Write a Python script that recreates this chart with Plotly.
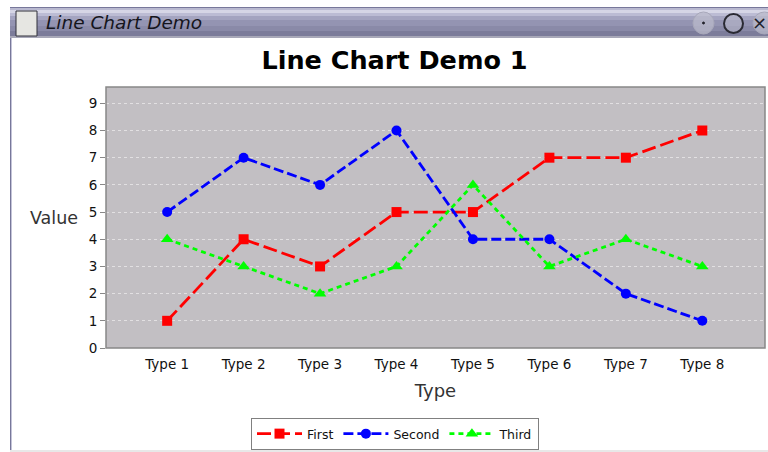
import plotly.graph_objects as go

categories = ["Type 1", "Type 2", "Type 3", "Type 4", "Type 5", "Type 6", "Type 7", "Type 8"]
first = [1, 4, 3, 5, 5, 7, 7, 8]
second = [5, 7, 6, 8, 4, 4, 2, 1]
third = [4, 3, 2, 3, 6, 3, 4, 3]
y_ticks = [0, 1, 2, 3, 4, 5, 6, 7, 8, 9]

W, H = 768, 452
FONT = "DejaVu Sans"

fig = go.Figure()
fig.add_trace(go.Scatter(x=categories, y=first, name="First", mode="lines+markers",
                         line=dict(color="#ff0000", width=2.8, dash="14px,5px"),
                         marker=dict(symbol="square", size=10, color="#ff0000")))
fig.add_trace(go.Scatter(x=categories, y=second, name="Second", mode="lines+markers",
                         line=dict(color="#0000ff", width=2.8, dash="10px,4px"),
                         marker=dict(symbol="circle", size=10, color="#0000ff")))
fig.add_trace(go.Scatter(x=categories, y=third, name="Third", mode="lines+markers",
                         line=dict(color="#00ff00", width=2.8, dash="5px,4px"),
                         marker=dict(symbol="triangle-up", size=11, color="#00ff00")))


def px_rect(x0, y0, x1, y1, fill, line=None, layer="above"):
    return dict(type="rect", xref="paper", yref="paper", layer=layer,
                x0=(x0 - 106) / 659, x1=(x1 - 106) / 659,
                y0=(348 - y0) / 261, y1=(348 - y1) / 261,
                fillcolor=fill, line=dict(color=line or fill, width=1 if line else 0))


def px_circle(x0, y0, x1, y1, fill, line, width=1):
    s = px_rect(x0, y0, x1, y1, fill)
    s["type"] = "circle"
    s["line"] = dict(color=line, width=width)
    return s


bands = [(7, 8, "#77779a"), (8, 10, "#b9b9d0"), (10, 13, "#d6d6e6"), (13, 16, "#bcbcd4"),
         (16, 20, "#a4a4c0"), (20, 26, "#9494b2"), (26, 31, "#8a8aa8"), (31, 36, "#7c7c9a"),
         (36, 38, "#a8a8b8")]
shapes = [px_rect(10, y0, 768, y1, c) for y0, y1, c in bands]
shapes += [px_rect(10, 38, 12, 450, "#c4c4d8"), px_rect(10, 38, 11, 450, "#77779a"),
           px_rect(10, 450, 768, 452, "#e8e8e8"),
           px_rect(16, 11, 37, 36, "#e6e6e2", "#30303a"),
           px_circle(693, 12, 714, 34, "rgba(190,190,205,0.7)", "#a8a8ba"),
           px_circle(702.5, 22, 704.5, 24, "#202028", "#202028"),
           px_circle(724, 14, 743, 33, "rgba(190,190,205,0.5)", "#2a2a33", 2),
           px_circle(753, 12, 776, 34, "rgba(190,190,205,0.7)", "#a8a8ba")]

annotations = [
    dict(text="<i>Line Chart Demo</i>", xref="paper", yref="paper", x=(44 - 106) / 659, y=(348 - 23) / 261,
         xanchor="left", yanchor="middle", showarrow=False,
         font=dict(family=FONT, size=18.5, color="#15151c")),
    dict(text="×", xref="paper", yref="paper", x=(759 - 106) / 659, y=(348 - 23) / 261,
         xanchor="center", yanchor="middle", showarrow=False,
         font=dict(family=FONT, size=18, color="#20202a")),
    dict(text="Value", xref="paper", yref="paper", x=(54 - 106) / 659, y=(348 - 218) / 261,
         xanchor="center", yanchor="middle", showarrow=False,
         font=dict(family=FONT, size=17.5, color="#333333")),
]

fig.update_layout(
    width=W, height=H,
    margin=dict(l=106, r=3, t=87, b=104, autoexpand=False),
    paper_bgcolor="#ffffff", plot_bgcolor="#c2bfc3",
    title=dict(text="<b>Line Chart Demo 1</b>", x=394.5 / W, xanchor="center", y=1 - 60 / H, yanchor="middle",
               font=dict(family=FONT, size=25.5, color="#000000")),
    font=dict(family=FONT, size=12, color="#111111"),
    xaxis=dict(title=dict(text="Type", standoff=13, font=dict(family=FONT, size=18, color="#333333")),
               type="category", categoryorder="array", categoryarray=categories, range=[-0.8, 7.82],
               showgrid=False, zeroline=False, ticks="outside", ticklen=4, tickcolor="rgba(0,0,0,0)", showline=False,
               tickfont=dict(family=FONT, size=13.5, color="#111111")),
    yaxis=dict(title=dict(text=""), range=[0, 9.6], tickvals=y_ticks, ticks="outside", ticklen=5,
               tickcolor="#888888", showgrid=True, gridcolor="#e2e0e2", griddash="3px,3px", gridwidth=1,
               zeroline=False, showline=False, tickfont=dict(family=FONT, size=13.5, color="#111111")),
    showlegend=True,
    legend=dict(orientation="h", x=(251 - 106) / 659, y=(348 - 418) / 261, xanchor="left", yanchor="top",
                bgcolor="#ffffff", bordercolor="#808080", borderwidth=1,
                font=dict(family=FONT, size=12.5, color="#111111"), itemwidth=45, traceorder="normal"),
    shapes=shapes + [dict(type="rect", xref="paper", yref="paper", x0=0, x1=1, y0=0, y1=1,
                          line=dict(color="#888888", width=1.5), layer="above")],
    annotations=annotations,
)

fig.write_html("out.html", config={"displayModeBar": False}, post_script="document.body.style.margin='0';")
